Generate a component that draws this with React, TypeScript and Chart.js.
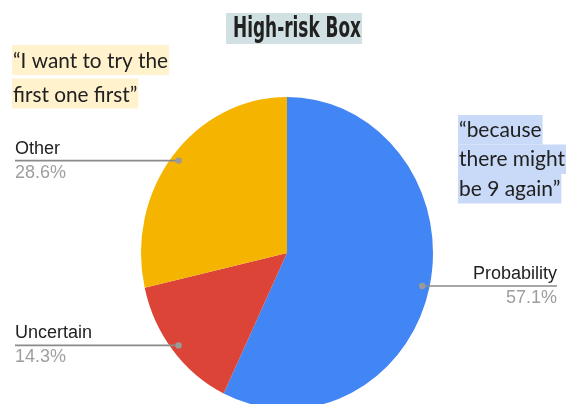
import React, { useEffect, useRef } from "react";
import { Chart, registerables } from "chart.js";

Chart.register(...registerables);

const categories = ["Probability", "Uncertain", "Other"];
const values = [4, 1, 2];
const sliceColors = ["#4285F4", "#DB4437", "#F4B400"];
const titleText = "High-risk Box";
const leftQuote = ["\u201CI want to try the", "first one first\u201D"];
const rightQuote = ["\u201Cbecause", "there might", "be 9 again\u201D"];

const SY = 156 / 146; // vertical stretch of the pie in the reference

const ellipsePlugin = {
  id: "ellipse",
  beforeDatasetsDraw(chart: any) {
    const a = chart.getDatasetMeta(0).data[0];
    const ctx = chart.ctx;
    ctx.save();
    ctx.translate(a.x, a.y);
    ctx.scale(1, SY);
    ctx.translate(-a.x, -a.y);
  },
  afterDatasetsDraw(chart: any) {
    chart.ctx.restore();
  },
};

function drawQuote(
  ctx: CanvasRenderingContext2D,
  lines: string[],
  x: number,
  baselines: number[],
  refLine: number,
  refWidth: number,
  bg: string,
  up: number,
  down: number
) {
  ctx.save();
  ctx.font = '21px Lato, "Open Sans", sans-serif';
  const sx = refWidth / ctx.measureText(lines[refLine]).width;
  lines.forEach((ln, i) => {
    const w = ctx.measureText(ln).width * sx;
    ctx.fillStyle = bg;
    ctx.fillRect(x - 1, baselines[i] - up, w + 2, up + down);
  });
  lines.forEach((ln, i) => {
    ctx.save();
    ctx.translate(x, baselines[i]);
    ctx.scale(sx, 1);
    ctx.fillStyle = "#212121";
    ctx.textBaseline = "alphabetic";
    ctx.fillText(ln, 0, 0);
    ctx.restore();
  });
  ctx.restore();
}

const decorPlugin = {
  id: "decor",
  afterDraw(chart: any) {
    const ctx: CanvasRenderingContext2D = chart.ctx;
    // title
    ctx.save();
    ctx.fillStyle = "#D0E0E3";
    ctx.fillRect(226, 13, 136, 31);
    ctx.font = 'bold 29px "Liberation Sans Narrow", "DejaVu Sans Condensed", sans-serif';
    const tw = ctx.measureText(titleText).width;
    ctx.translate(233, 37);
    ctx.scale(128 / tw, 1);
    ctx.fillStyle = "#212121";
    ctx.fillText(titleText, 0, 0);
    ctx.restore();

    drawQuote(ctx, leftQuote, 13, [68, 101.5], 0, 155, "#FFF2CC", 23, 7);
    drawQuote(ctx, rightQuote, 459, [136.5, 166, 195.5], 1, 106, "#C9DAF8", 21.5, 8);

    // leader labels
    const meta = chart.getDatasetMeta(0);
    const total = values.reduce((s, v) => s + v, 0);
    meta.data.forEach((arc: any, i: number) => {
      const p = arc.getProps(["x", "y", "startAngle", "endAngle", "outerRadius"], true);
      const mid = (p.startAngle + p.endAngle) / 2;
      const dx = p.x + Math.cos(mid) * p.outerRadius * 0.95;
      const dy = p.y + Math.sin(mid) * p.outerRadius * 0.95 * SY;
      const right = dx > p.x;
      const lx = right ? 557 : 15;
      ctx.save();
      ctx.strokeStyle = "#8a8a8a";
      ctx.lineWidth = 1.6;
      ctx.beginPath();
      ctx.moveTo(lx, dy);
      ctx.lineTo(dx, dy);
      ctx.stroke();
      ctx.fillStyle = "#9a9a9a";
      ctx.beginPath();
      ctx.arc(dx, dy, 3.2, 0, Math.PI * 2);
      ctx.fill();
      ctx.font = '18px "Liberation Sans", Arial, sans-serif';
      ctx.textAlign = right ? "right" : "left";
      ctx.textBaseline = "alphabetic";
      ctx.fillStyle = "#222222";
      ctx.fillText(categories[i], lx, dy - 7);
      ctx.fillStyle = "#9e9e9e";
      ctx.fillText(((values[i] / total) * 100).toFixed(1) + "%", lx, dy + 17);
      ctx.restore();
    });
  },
};

export default function App() {
  const ref = useRef<HTMLCanvasElement>(null);
  useEffect(() => {
    if (!ref.current) return;
    const chart = new Chart(ref.current, {
      type: "pie",
      data: {
        labels: categories,
        datasets: [
          {
            data: values,
            backgroundColor: sliceColors,
            borderWidth: 0,
            clip: false as any,
          },
        ],
      },
      options: {
        responsive: false,
        animation: false,
        events: [],
        layout: { padding: { top: 107, bottom: 5, left: 141, right: 141 } },
        plugins: {
          legend: { display: false },
          tooltip: { enabled: false },
          title: { display: false },
        },
      },
      plugins: [ellipsePlugin, decorPlugin],
    });
    return () => chart.destroy();
  }, []);
  return (
    <div style={{ position: "absolute", left: 0, top: 0, width: 574, height: 404, background: "#fff" }}>
      <canvas ref={ref} width={574} height={404} style={{ display: "block" }} />
    </div>
  );
}
